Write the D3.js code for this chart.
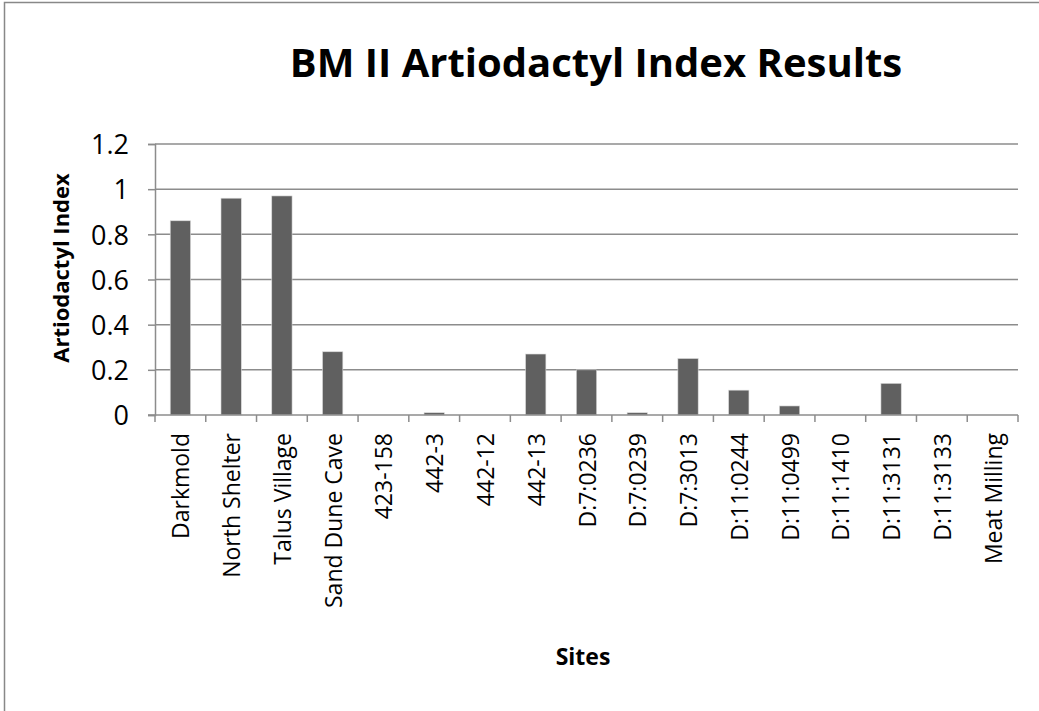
<!DOCTYPE html>
<html>
<head>
<meta charset="utf-8" />
<title>BM II Artiodactyl Index Results</title>
<script src="https://d3js.org/d3.v7.min.js"></script>
<style>
html, body { margin: 0; padding: 0; background: #fff; }
svg { display: block; }
text { font-family: "Open Sans", "Noto Sans", sans-serif; fill: #000; }
</style>
</head>
<body>
<script>
// chart data
let sites = ['Darkmold', 'North Shelter', 'Talus Village', 'Sand Dune Cave', '423-158', '442-3', '442-12', '442-13',
    'D:7:0236', 'D:7:0239', 'D:7:3013', 'D:11:0244', 'D:11:0499', 'D:11:1410', 'D:11:3131', 'D:11:3133', 'Meat Milling'];
let indexValues = [0.86, 0.96, 0.97, 0.28, 0, 0.01, 0, 0.27, 0.2, 0.01, 0.25, 0.11, 0.04, 0, 0.14, 0, 0];
let yTicks = [0, 0.2, 0.4, 0.6, 0.8, 1, 1.2];

let width = 1039, height = 711;
let plot = {left: 155, right: 1018, top: 144, bottom: 415};

let svg = d3.select('body').append('svg').attr('width', width).attr('height', height);

// outer chart border
svg.append('rect').attr('x', 4.5).attr('y', 2.5).attr('width', width + 10).attr('height', height + 10)
    .attr('fill', '#fff').attr('stroke', '#888').attr('stroke-width', 1.5);

let x = d3.scaleBand().domain(sites).range([plot.left, plot.right]).paddingInner(0.6).paddingOuter(0.3);
let xb = d3.scaleBand().domain(sites).range([plot.left, plot.right]);
let y = d3.scaleLinear().domain([0, 1.2]).range([plot.bottom, plot.top]);

// gridlines
svg.append('g').selectAll('line').data(yTicks.slice(1)).enter().append('line')
    .attr('x1', plot.left).attr('x2', plot.right)
    .attr('y1', d => y(d)).attr('y2', d => y(d))
    .attr('stroke', '#8c8c8c').attr('stroke-width', 1.5);

// bars
svg.append('g').selectAll('rect').data(indexValues).enter().append('rect')
    .attr('x', (d, i) => x(sites[i]))
    .attr('width', x.bandwidth())
    .attr('y', d => y(d))
    .attr('height', d => y(0) - y(d))
    .attr('fill', '#606060')
    .attr('stroke', '#d9d9d9').attr('stroke-width', 0.6);

// y axis
let yAxis = svg.append('g').attr('transform', `translate(${plot.left},0)`)
    .call(d3.axisLeft(y).tickValues(yTicks).tickSize(7).tickPadding(19).tickFormat(d => d3.format('')(d)));
yAxis.select('.domain').attr('stroke', '#8c8c8c').attr('stroke-width', 1.5);
yAxis.selectAll('.tick line').attr('stroke', '#8c8c8c').attr('stroke-width', 1.5);
yAxis.selectAll('.tick text').style('font-size', '27px').attr('dy', '0.36em');

// x axis: ticks at category boundaries
let xAxis = svg.append('g').attr('transform', `translate(0,${plot.bottom})`);
xAxis.append('line').attr('x1', plot.left - 7).attr('x2', plot.right)
    .attr('stroke', '#8c8c8c').attr('stroke-width', 1.5);
xAxis.selectAll('line.tick').data(sites.concat(['end'])).enter().append('line').attr('class', 'tick')
    .attr('x1', (d, i) => i < sites.length ? xb(d) : plot.right)
    .attr('x2', (d, i) => i < sites.length ? xb(d) : plot.right)
    .attr('y1', 0).attr('y2', 7)
    .attr('stroke', '#8c8c8c').attr('stroke-width', 1.5);
xAxis.selectAll('text').data(sites).enter().append('text')
    .attr('transform', d => `translate(${xb(d) + xb.bandwidth() / 2 + 9},18) rotate(-90)`)
    .attr('text-anchor', 'end')
    .style('font-size', '23px')
    .text(d => d);

// titles
svg.append('text').attr('x', 596).attr('y', 77).attr('text-anchor', 'middle')
    .style('font-size', '40px').style('font-weight', 'bold')
    .text('BM II Artiodactyl Index Results');
svg.append('text').attr('transform', 'translate(69,268) rotate(-90)').attr('text-anchor', 'middle')
    .style('font-size', '22px').style('font-weight', 'bold')
    .text('Artiodactyl Index');
svg.append('text').attr('x', 583).attr('y', 665).attr('text-anchor', 'middle')
    .style('font-size', '23px').style('font-weight', 'bold')
    .text('Sites');
</script>
</body>
</html>
